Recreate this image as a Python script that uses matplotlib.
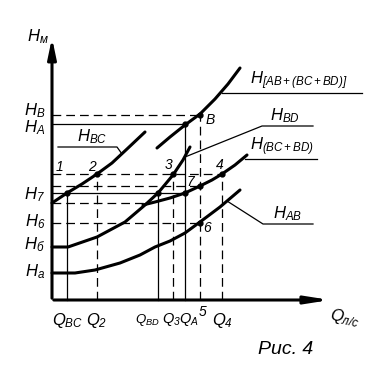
import matplotlib
matplotlib.use("Agg")
import matplotlib.pyplot as plt

plt.rcParams['font.family'] = ['Liberation Sans', 'DejaVu Sans']
plt.rcParams['mathtext.fontset'] = 'custom'
plt.rcParams['mathtext.it'] = 'Liberation Sans:italic'
plt.rcParams['mathtext.rm'] = 'Liberation Sans:italic'
plt.rcParams['mathtext.default'] = 'it'

# характеристики (Q, H) в условных единицах
Q_ab = [0, 23, 43, 68, 88, 103, 118, 133, 148, 168, 188]
H_ab = [27, 27, 30, 37, 45, 53, 59, 67, 78, 93, 110]

Q_bd = [0, 16, 45, 73, 93, 106, 121, 131, 138]
H_bd = [53, 53, 63, 78, 95, 107, 125, 140, 153]

Q_bc = [0, 15, 30, 45, 60, 75, 93]
H_bc = [97, 107, 116, 126, 137, 151, 168]

Q_par = [91, 103, 118, 133, 148, 160, 170, 183, 195]
H_par = [95, 98, 102, 107, 114, 120, 126, 135, 145]

Q_sum = [105, 118, 133, 148, 163, 176, 188]
H_sum = [152, 163, 175, 186, 201, 216, 232]

# рабочие точки
pt_names = ['1', '2', '3', '7', '4', '6', 'B', '', '', '']
pt_Q = [15, 45, 121, 148, 170, 148, 148, 106, 133, 133]
pt_H = [107, 126, 126, 114, 126, 77, 185, 107, 107, 176]

# уровни напоров
lev_names = ['$H_В$', '$H_А$', '$H_7$', '$H_6$', '$H_б$', '$H_а$']
lev_H = [185, 176, 114, 77, 53, 27]

# расходы
q_names = ['$Q_{BC}$', '$Q_2$', '$Q_{BD}$', '$Q_3$', '$Q_A$', '5', '$Q_4$']
q_vals = [15, 45, 106, 121, 133, 148, 170]

fig = plt.figure(figsize=(3.82, 3.84), dpi=100)
ax = fig.add_axes([0, 0, 1, 1])
ax.set_xlim(-52, 330)
ax.set_ylim(-84, 300)
ax.axis('off')

k = 'black'
dash = dict(color=k, lw=0.9, ls=(0, (7, 4)))
thin = dict(color=k, lw=0.9)

# оси
ax.annotate('', xy=(0, 265), xytext=(0, -1),
            arrowprops=dict(arrowstyle='-|>,head_length=1.2,head_width=0.25', color=k, lw=2.2))
ax.annotate('', xy=(281, 0), xytext=(-1, 0),
            arrowprops=dict(arrowstyle='-|>,head_length=1.4,head_width=0.22', color=k, lw=2.2))

# горизонтальные линии
ax.plot([0, pt_Q[6]], [pt_H[6]] * 2, **dash)
ax.plot([0, pt_Q[9]], [pt_H[9]] * 2, **thin)
ax.plot([0, pt_Q[4]], [pt_H[4]] * 2, **dash)
ax.plot([0, pt_Q[3]], [pt_H[3]] * 2, **dash)
ax.plot([0, pt_Q[8]], [pt_H[8]] * 2, **thin)
ax.plot([0, Q_par[0] + 5], [H_bc[0]] * 2, **dash)
ax.plot([0, pt_Q[5]], [pt_H[5]] * 2, **dash)

# вертикальные линии
ax.plot([q_vals[0]] * 2, [0, pt_H[0]], **thin)
ax.plot([q_vals[1]] * 2, [0, pt_H[1]], **dash)
ax.plot([q_vals[2]] * 2, [0, pt_H[7]], **thin)
ax.plot([q_vals[3]] * 2, [0, pt_H[2]], **dash)
ax.plot([q_vals[4]] * 2, [0, pt_H[9]], **thin)
ax.plot([q_vals[5]] * 2, [0, pt_H[6]], **dash)
ax.plot([q_vals[6]] * 2, [0, pt_H[4]], **dash)

# кривые
for qq, hh in [(Q_ab, H_ab), (Q_bd, H_bd), (Q_bc, H_bc), (Q_par, H_par), (Q_sum, H_sum)]:
    ax.plot(qq, hh, color=k, lw=2.2, solid_capstyle='round')

ax.plot(pt_Q, pt_H, 'o', color=k, ms=3.5)

# подписи точек
offs = {'1': (-7, 26), '2': (-5, 7), '3': (-4, 9), '7': (-10, 4), '4': (-2, 9),
        '6': (7, -5), 'B': (10, -5)}
for n, q, h in zip(pt_names, pt_Q, pt_H):
    if n:
        dx, dy = offs[n]
        ax.text(q + dx, h + dy, n, fontsize=10, style='italic', ha='center', va='center')

# подписи уровней
lev_y = [189, 172, 105, 78, 55, 28]
for n, y in zip(lev_names, lev_y):
    ax.text(-7, y, n, fontsize=12, ha='right', va='center')
ax.text(-14, 263, '$H_м$', fontsize=12, ha='center', va='center')

# подписи расходов
q_lab = [16, 45, 95, 119, 137, 151, 170]
q_fs = [12, 12, 9.5, 10.5, 10.5, 10, 12]
for n, q, fs in zip(q_names, q_lab, q_fs):
    if n == '5':
        ax.text(q, -12, n, fontsize=fs, style='italic', ha='center', va='center')
    else:
        ax.text(q, -20, n, fontsize=fs, ha='center', va='center')
ax.text(293, -18, '$Q_{л/с}$', fontsize=12, ha='center', va='center', rotation=-12)
ax.text(234, -50, 'Рис. 4', fontsize=14, style='italic', ha='center', va='center')

# выноски
ax.plot([6, 65, 70], [153, 153, 146], **thin)
ax.text(25, 154, '$H_{BC}$', fontsize=12, ha='left', va='bottom')
ax.plot([170, 310], [207, 207], **thin)
ax.text(198, 208, '$H_{[AB+(BC+BD)]}$', fontsize=12, ha='left', va='bottom')
ax.plot([133, 210, 261], [143, 174, 174], **thin)
ax.text(218, 175, '$H_{BD}$', fontsize=12, ha='left', va='bottom')
ax.plot([193, 265], [141, 141], **thin)
ax.text(198, 142, '$H_{(BC+BD)}$', fontsize=12, ha='left', va='bottom')
ax.plot([175, 211, 261], [99, 76, 76], **thin)
ax.text(221, 77, '$H_{AB}$', fontsize=12, ha='left', va='bottom')

fig.savefig('out.png', dpi=100)
